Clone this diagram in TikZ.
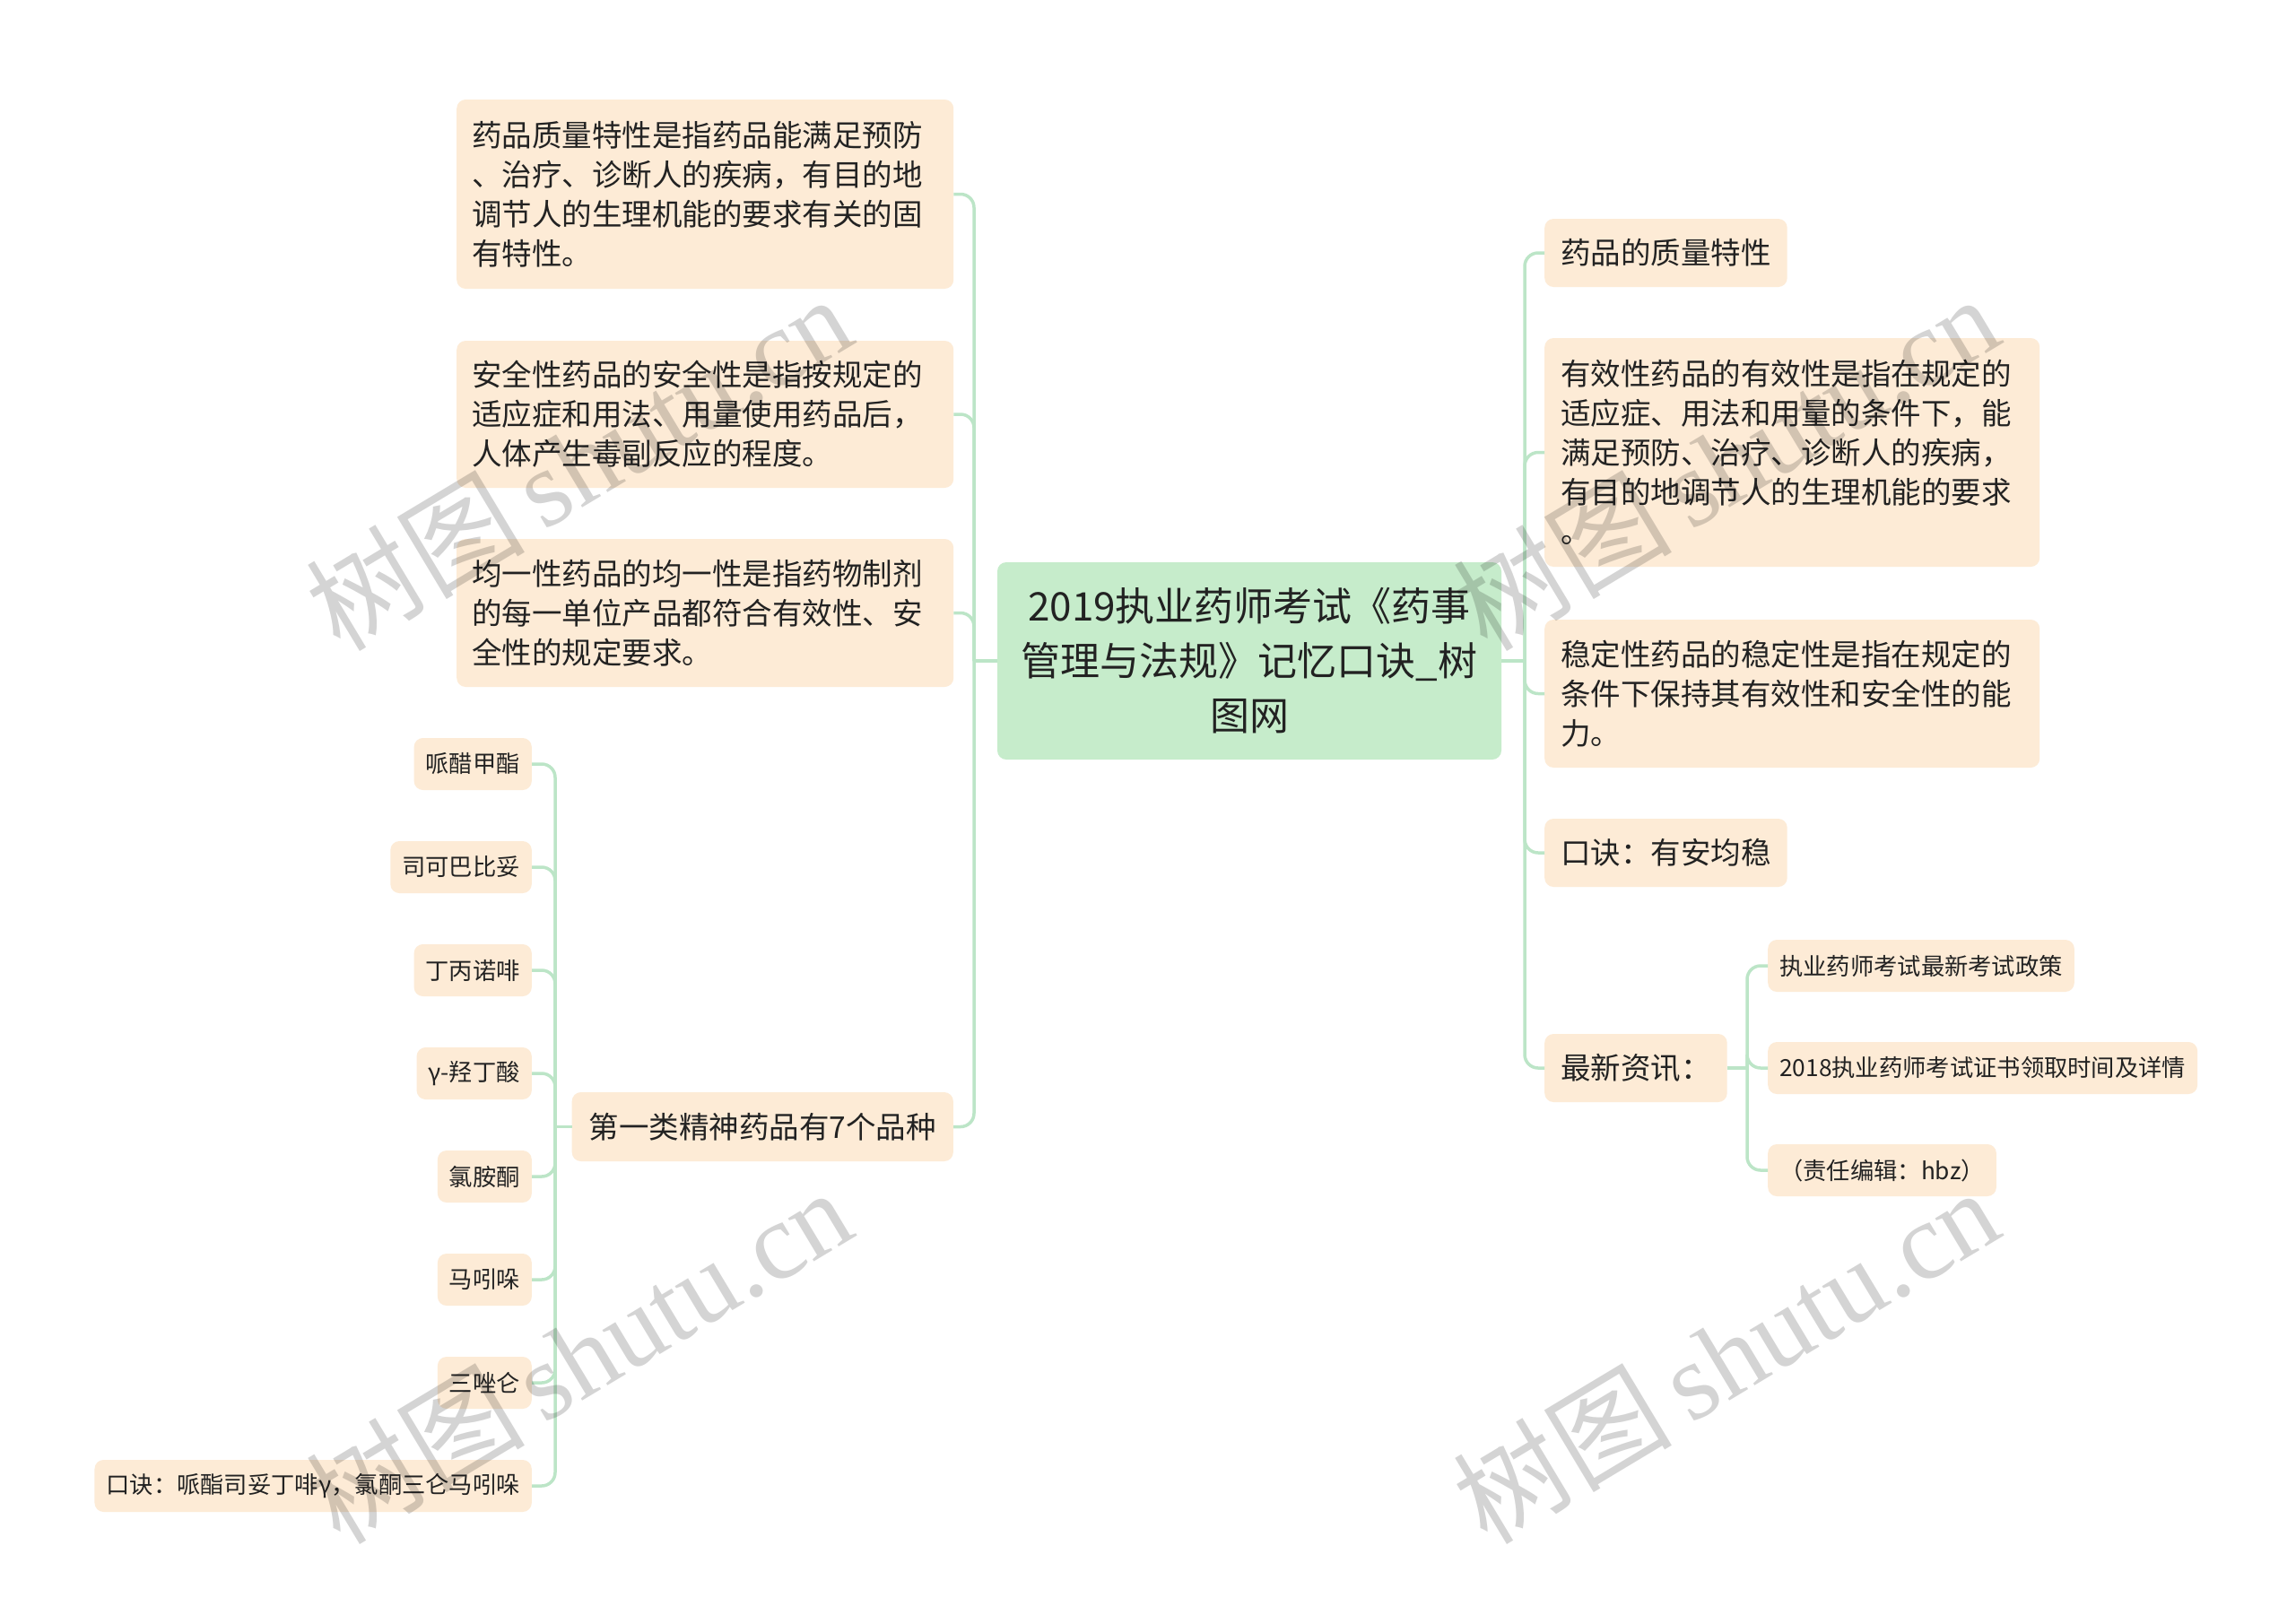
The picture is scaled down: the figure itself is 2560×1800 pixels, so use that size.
\documentclass[tikz,border=0pt]{standalone}
\usepackage{fontspec}
\setmainfont{Noto Sans CJK SC}
\newfontfamily\wmlat{Liberation Serif}
\definecolor{peach}{RGB}{253,235,214}
\definecolor{rootg}{RGB}{198,236,203}
\definecolor{conng}{RGB}{188,229,199}
\definecolor{txt}{RGB}{34,34,34}
\tikzset{
  bigbox/.style={fill=peach, rounded corners=10, text=txt, font=\fontsize{33.5}{44}\selectfont, inner xsep=17, inner ysep=0, align=left},
  smallbox/.style={fill=peach, rounded corners=10, text=txt, font=\fontsize{26.3}{30}\selectfont, inner xsep=13, inner ysep=0, minimum height=58},
  rootbox/.style={fill=rootg, rounded corners=10, text=txt, font=\fontsize{44}{61}\selectfont, inner sep=0, align=center, minimum width=562, minimum height=220},
  conn/.style={draw=conng, line width=3.5, rounded corners=15},
  wm/.style={text=black, text opacity=0.17, rotate=31, inner sep=0}
}
\begin{document}
\begin{tikzpicture}[x=1pt,y=-1pt]
\fill[white] (0,0) rectangle (2560,1800);
\useasboundingbox (0,0) rectangle (2560,1800);

% root
\node[rootbox] (root) at (1393,737) {2019执业药师考试《药事\\管理与法规》记忆口诀\_树\\图网};

% left main children
\node[bigbox, anchor=west, text width=520, minimum height=211] (L1) at (509,216.5) {药品质量特性是指药品能满足预防\\、治疗、诊断人的疾病，有目的地\\调节人的生理机能的要求有关的固\\有特性。};
\node[bigbox, anchor=west, text width=520, minimum height=164] (L2) at (509,462) {安全性药品的安全性是指按规定的\\适应症和用法、用量使用药品后，\\人体产生毒副反应的程度。};
\node[bigbox, anchor=west, text width=520, minimum height=165] (L3) at (509,683.5) {均一性药品的均一性是指药物制剂\\的每一单位产品都符合有效性、安\\全性的规定要求。};
\node[bigbox, anchor=east, inner xsep=19, minimum height=77] (L4) at (1063,1256.5) {第一类精神药品有7个品种};

% L4 children
\node[smallbox, anchor=east] (a1) at (593,852) {哌醋甲酯};
\node[smallbox, anchor=east] (a2) at (593,967) {司可巴比妥};
\node[smallbox, anchor=east] (a3) at (593,1082) {丁丙诺啡};
\node[smallbox, anchor=east] (a4) at (593,1197) {γ-羟丁酸};
\node[smallbox, anchor=east] (a5) at (593,1312) {氯胺酮};
\node[smallbox, anchor=east] (a6) at (593,1427) {马吲哚};
\node[smallbox, anchor=east] (a7) at (593,1542) {三唑仑};
\node[smallbox, anchor=east] (a8) at (593,1657) {口诀：哌酯司妥丁啡γ，氯酮三仑马吲哚};

% right main children
\node[bigbox, anchor=west, inner xsep=18, minimum height=76] (R1) at (1722,282) {药品的质量特性};
\node[bigbox, anchor=west, inner xsep=18, text width=516, minimum height=255] (R2) at (1722,504.5) {有效性药品的有效性是指在规定的\\适应症、用法和用量的条件下，能\\满足预防、治疗、诊断人的疾病，\\有目的地调节人的生理机能的要求\\。};
\node[bigbox, anchor=west, inner xsep=18, text width=516, minimum height=165] (R3) at (1722,773.5) {稳定性药品的稳定性是指在规定的\\条件下保持其有效性和安全性的能\\力。};
\node[bigbox, anchor=west, inner xsep=18, minimum height=76] (R4) at (1722,951) {口诀：有安均稳};
\node[bigbox, anchor=west, inner xsep=18, minimum height=76] (R5) at (1722,1191) {最新资讯：};

% R5 children
\node[smallbox, anchor=west] (b1) at (1971,1077) {执业药师考试最新考试政策};
\node[smallbox, anchor=west] (b2) at (1971,1191) {2018执业药师考试证书领取时间及详情};
\node[smallbox, anchor=west] (b3) at (1971,1305) {（责任编辑：hbz）};

% junctions
\coordinate (jl) at (1086,737);
\coordinate (jr) at (1700,737);
\coordinate (j4) at (619,1256.5);
\coordinate (j5) at (1948,1191);

% connectors
\draw[conn] (root.west) -- (jl);
\foreach \n in {L1,L2,L3,L4} \draw[conn] (jl) |- (\n.east);
\draw[conn] (root.east) -- (jr);
\foreach \n in {R1,R2,R3,R4,R5} \draw[conn] (jr) |- (\n.west);
\draw[conn] (L4.west) -- (j4);
\foreach \n in {a1,a2,a3,a4,a5,a6,a7,a8} \draw[conn] (j4) |- (\n.east);
\draw[conn] (R5.east) -- (j5);
\foreach \n in {b1,b2,b3} \draw[conn] (j5) |- (\n.west);

% watermarks
\node[wm] (w1) at (645,515) {\fontsize{122}{122}\selectfont 树图\,{\wmlat shutu.cn}};
\node[wm] (w2) at (1924,515) {\fontsize{122}{122}\selectfont 树图\,{\wmlat shutu.cn}};
\node[wm] (w3) at (645,1511) {\fontsize{122}{122}\selectfont 树图\,{\wmlat shutu.cn}};
\node[wm] (w4) at (1924,1511) {\fontsize{122}{122}\selectfont 树图\,{\wmlat shutu.cn}};
\end{tikzpicture}
\end{document}
